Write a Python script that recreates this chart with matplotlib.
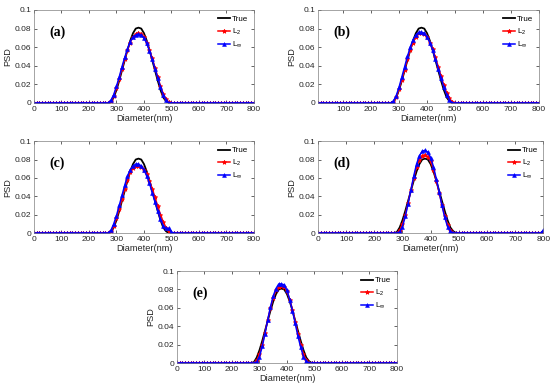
import numpy as np
import matplotlib.pyplot as plt

# diameters (nm), sampled every 10 nm
diam = np.arange(0, 810, 10)
# non-zero part of each curve, 280..500 nm
peak_start = 280

psd_true = [0.001, 0.006, 0.014, 0.024, 0.035, 0.046, 0.057, 0.067, 0.075, 0.080, 0.081, 0.080,
            0.075, 0.067, 0.057, 0.046, 0.035, 0.024, 0.014, 0.006, 0.002, 0.000, 0.000]

a_l2 = [0.002, 0.008, 0.016, 0.026, 0.037, 0.047, 0.057, 0.065, 0.071, 0.074, 0.075, 0.074,
        0.071, 0.065, 0.057, 0.048, 0.038, 0.028, 0.018, 0.010, 0.004, 0.001, 0.000]
a_linf = [0.003, 0.009, 0.018, 0.028, 0.039, 0.049, 0.058, 0.066, 0.071, 0.073, 0.074, 0.073,
          0.070, 0.064, 0.056, 0.047, 0.037, 0.027, 0.017, 0.009, 0.003, 0.000, 0.000]

b_l2 = [0.001, 0.006, 0.015, 0.025, 0.036, 0.047, 0.057, 0.065, 0.071, 0.075, 0.075, 0.074,
        0.071, 0.065, 0.058, 0.049, 0.039, 0.029, 0.019, 0.011, 0.005, 0.001, 0.000]
b_linf = [0.002, 0.008, 0.017, 0.028, 0.039, 0.050, 0.060, 0.068, 0.073, 0.076, 0.076, 0.075,
          0.071, 0.065, 0.057, 0.047, 0.037, 0.027, 0.017, 0.009, 0.003, 0.000, 0.000]

c_l2 = [0.002, 0.008, 0.016, 0.026, 0.037, 0.048, 0.058, 0.066, 0.071, 0.073, 0.073, 0.072,
        0.069, 0.064, 0.057, 0.048, 0.039, 0.029, 0.020, 0.012, 0.006, 0.002, 0.000]
c_linf = [0.003, 0.010, 0.019, 0.030, 0.041, 0.052, 0.062, 0.069, 0.073, 0.075, 0.075, 0.073,
          0.069, 0.062, 0.054, 0.044, 0.034, 0.024, 0.015, 0.008, 0.005, 0.005, 0.001]

d_l2 = [0.000, 0.003, 0.010, 0.020, 0.033, 0.047, 0.060, 0.072, 0.080, 0.084, 0.085, 0.083,
        0.078, 0.069, 0.057, 0.044, 0.031, 0.019, 0.009, 0.003, 0.000, 0.000, 0.000]
d_linf = [0.000, 0.001, 0.007, 0.018, 0.032, 0.047, 0.062, 0.075, 0.084, 0.089, 0.090, 0.088,
          0.082, 0.072, 0.059, 0.045, 0.030, 0.017, 0.007, 0.002, 0.000, 0.000, 0.000]
# spikes at the last point (800 nm) in panel (d)
d_end_l2 = 0.001
d_end_linf = 0.003

e_l2 = [0.000, 0.003, 0.010, 0.020, 0.033, 0.047, 0.060, 0.071, 0.079, 0.083, 0.084, 0.083,
        0.078, 0.069, 0.058, 0.045, 0.032, 0.020, 0.010, 0.003, 0.000, 0.000, 0.000]
e_linf = [0.000, 0.001, 0.007, 0.018, 0.032, 0.047, 0.061, 0.073, 0.081, 0.086, 0.086, 0.085,
          0.079, 0.069, 0.057, 0.043, 0.029, 0.017, 0.007, 0.002, 0.000, 0.000, 0.000]

panel_labels = ['(a)', '(b)', '(c)', '(d)', '(e)']
yticks = [0, 0.02, 0.04, 0.06, 0.08, 0.1]
ytick_labels = ['0', '0.02', '0.04', '0.06', '0.08', '0.1']


def full(seg, end=0.0):
    y = np.zeros(len(diam))
    i0 = int(np.searchsorted(diam, peak_start))
    y[i0:i0 + len(seg)] = seg
    y[-1] = end
    return y


series = [
    (a_l2, a_linf, 0, 0),
    (b_l2, b_linf, 0, 0),
    (c_l2, c_linf, 0, 0),
    (d_l2, d_linf, d_end_l2, d_end_linf),
    (e_l2, e_linf, 0, 0),
]

# axes rectangles in figure fractions [left, bottom, width, height]
rects = [
    [0.0618, 0.7366, 0.400, 0.2379],
    [0.578, 0.7366, 0.402, 0.2379],
    [0.0618, 0.404, 0.400, 0.235],
    [0.578, 0.404, 0.410, 0.235],
    [0.3218, 0.0716, 0.400, 0.235],
]

plt.rcParams['font.family'] = ['Liberation Sans', 'DejaVu Sans']
plt.rcParams['mathtext.fontset'] = 'custom'
plt.rcParams['mathtext.rm'] = 'Liberation Sans'
plt.rcParams['mathtext.it'] = 'Liberation Sans'

fig = plt.figure(figsize=(5.5, 3.91), dpi=100)

for k, (l2, linf, e2, einf) in enumerate(series):
    ax = fig.add_axes(rects[k])
    ax.plot(diam, full(psd_true), color='black', lw=1.3, label='True')
    ax.plot(diam, full(l2, e2), color='red', lw=1.1, marker='*', ms=3.2,
            markeredgewidth=0.6, label=r'L$_2$')
    ax.plot(diam, full(linf, einf), color='blue', lw=1.1, marker='^', ms=2.8,
            markeredgewidth=0.4, label=r'L$_\infty$')

    if k == 1:
        ax.set_xlim(10, 800)
        ax.set_xticks(range(100, 801, 100))
    else:
        ax.set_xlim(0, 800)
        ax.set_xticks(range(0, 801, 100))
    ax.set_ylim(0, 0.1)
    ax.set_yticks(yticks)
    ax.set_yticklabels(ytick_labels)

    ax.tick_params(direction='in', length=2, width=0.5, labelsize=6, pad=2,
                   top=True, right=True, colors='0.15')
    for sp in ax.spines.values():
        sp.set_linewidth(0.5)
        sp.set_color('0.5')
    ax.set_xlabel('Diameter(nm)', fontsize=6.6, labelpad=1, color='0.15')
    ax.set_ylabel('PSD', fontsize=6.6, labelpad=2, color='0.15')

    ax.text(0.07, 0.76, panel_labels[k], transform=ax.transAxes,
            family=['Liberation Serif', 'DejaVu Serif'], fontweight='bold',
            fontsize=10, va='center', ha='left')
    ax.legend(loc='upper right', frameon=False, fontsize=5.8, handlelength=1.5,
              handletextpad=0.2, labelspacing=0.4, borderaxespad=0.5,
              borderpad=0.2)

fig.savefig('out.png', dpi=100)
